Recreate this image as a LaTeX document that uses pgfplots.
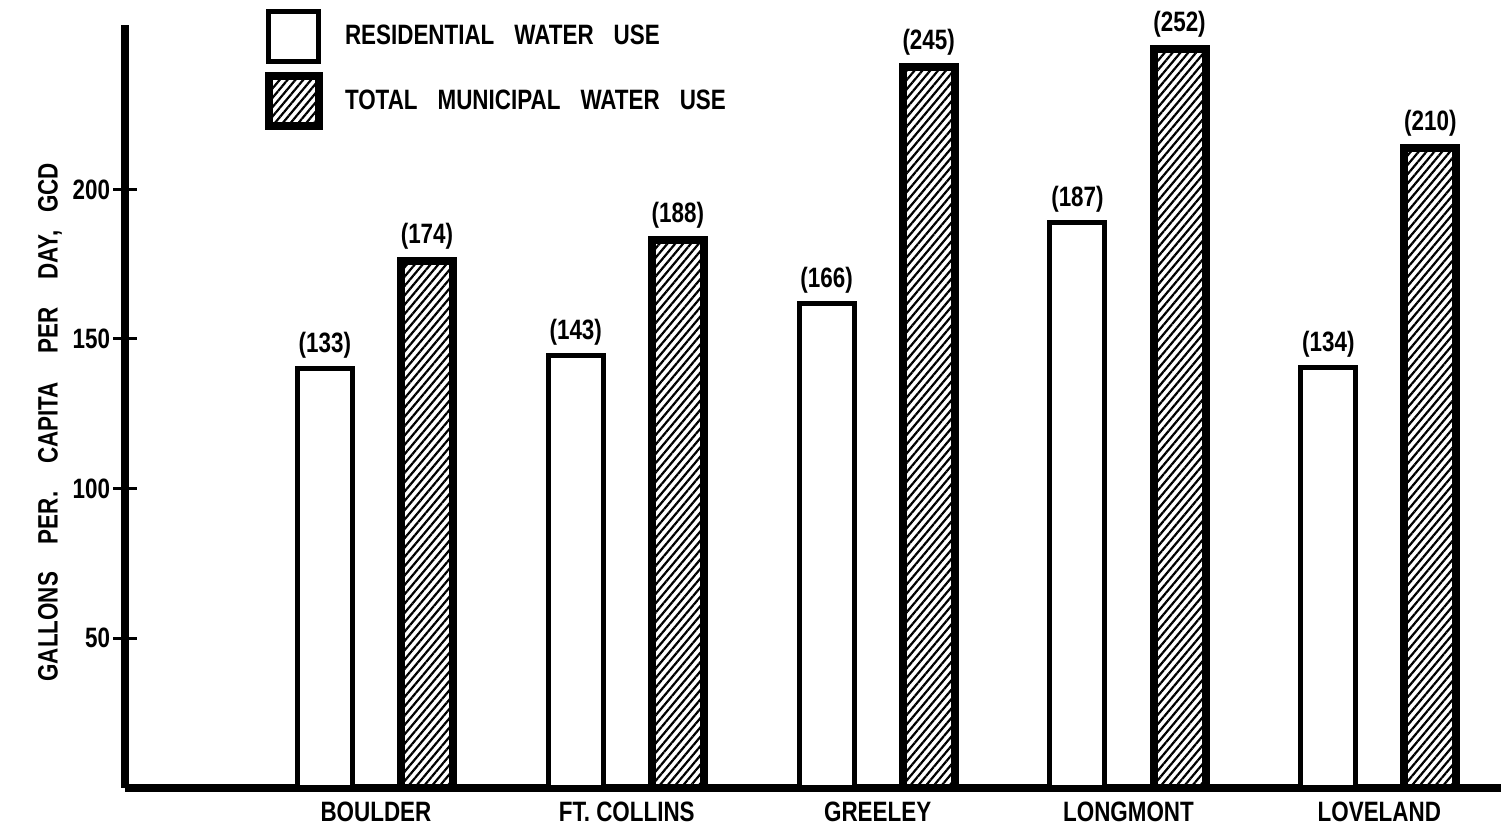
\documentclass[border=0pt]{standalone}
\usepackage{pgfplots}
\pgfplotsset{compat=1.18}
\usepackage{pgfplotstable}
\usetikzlibrary{patterns.meta}
\usepackage{fontspec}
\setmainfont{Liberation Sans}[FakeStretch=0.8]
\newcommand{\chartfont}{\fontsize{14}{16}\selectfont\bfseries}

\pgfplotstableread{
x y lab
1 140 (133)
2 144.5 (143)
3 162 (166)
4 189 (187)
5 140.5 (134)
}\residential
\pgfplotstableread{
x y lab
1 176 (174)
2 183 (188)
3 241 (245)
4 247 (252)
5 214 (210)
}\total

\begin{document}
\begin{tikzpicture}
\begin{axis}[
  scale only axis,
  width=687.5pt, height=381pt,
  xmin=0, xmax=5.485,
  ymin=0, ymax=255,
  axis x line=bottom, axis y line=left,
  axis line style={line width=4pt, -},
  clip=false,
  font=\chartfont,
  /pgf/number format/assume math mode=true,
  xtick={1,2,3,4,5},
  xticklabels={BOULDER, FT.\ COLLINS, GREELEY, LONGMONT, LOVELAND},
  x tick style={draw=none},
  xticklabel style={yshift=8.5pt},
  ytick={50,100,150,200},
  y tick style={line width=1.5pt, black},
  tick align=center,
  major tick length=12pt,
  yticklabel style={xshift=2pt},
  ylabel={GALLONS\hspace{14pt}PER.\hspace{14pt}CAPITA\hspace{14pt}PER\hspace{14pt}DAY,\hspace{9pt}GCD},
  ylabel style={at={(axis description cs:-0.0545,0.479)}, anchor=center},
  ybar,
  nodes near coords,
  point meta=explicit symbolic,
  nodes near coords style={anchor=south, yshift=0.5pt, font=\chartfont},
  legend style={draw=none, fill=none, at={(0.097,1.027)}, anchor=north west,
    row sep=4pt, font=\chartfont},
  legend cell align=left,
  legend image code/.code={\draw[#1] (0pt,-12.5pt) rectangle (25pt,12.5pt);
    \path[draw=none, fill=none] (25pt,0pt) -- (36pt,0pt);},
]
\addplot[draw=black, fill=white, line width=2.5pt, bar width=27.5pt, bar shift=-25.5pt]
  table[x=x, y=y, meta=lab] {\residential};
\addlegendentry{RESIDENTIAL\hspace{10pt}WATER\hspace{10pt}USE}
\addplot[draw=black, line width=4pt, bar width=26pt, bar shift=25.5pt,
  pattern={Lines[angle=50, distance=3pt, line width=1.1pt]}]
  table[x=x, y=y, meta=lab] {\total};
\addlegendentry{TOTAL\hspace{10pt}MUNICIPAL\hspace{10pt}WATER\hspace{10pt}USE}
\end{axis}
\pgfresetboundingbox
\path ([xshift=-62.5pt,yshift=-23pt]current axis.south west) rectangle ([yshift=12.5pt]current axis.north east);
\end{tikzpicture}
\end{document}
